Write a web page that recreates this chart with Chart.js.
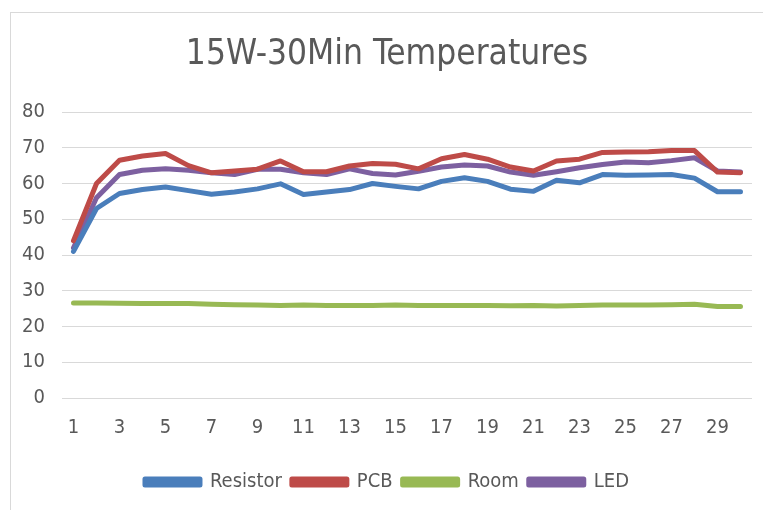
<!DOCTYPE html>
<html>
<head>
<meta charset="utf-8">
<script src="https://cdn.jsdelivr.net/npm/chart.js@4"></script>
<style>
  html, body { margin: 0; padding: 0; background: #fff; overflow: hidden; width: 763px; height: 510px; }
  #frame { position: absolute; left: 10px; top: 12px; width: 800px; height: 600px; border: 1px solid #d9d9d9; }
  #wrap { position: absolute; left: 0; top: 0; width: 763px; height: 510px; }
</style>
</head>
<body>
<div id="frame"></div>
<div id="wrap"><canvas id="c" width="763" height="510"></canvas></div>
<script>
const categories = ["1","2","3","4","5","6","7","8","9","10","11","12","13","14","15","16","17","18","19","20","21","22","23","24","25","26","27","28","29","30"];
const resistor = [41, 53, 57.2, 58.3, 59, 58, 57, 57.6, 58.5, 59.9, 56.9, 57.6, 58.3, 60, 59.2, 58.5, 60.6, 61.6, 60.6, 58.4, 57.8, 60.9, 60.2, 62.5, 62.3, 62.4, 62.5, 61.5, 57.7, 57.7];
const pcb = [44, 60, 66.5, 67.7, 68.4, 65, 63, 63.5, 64, 66.3, 63.3, 63.3, 64.9, 65.6, 65.4, 64.1, 66.9, 68.1, 66.8, 64.6, 63.5, 66.3, 66.8, 68.7, 68.8, 68.9, 69.2, 69.2, 63.2, 63];
const room = [26.6, 26.6, 26.5, 26.4, 26.4, 26.4, 26.2, 26.1, 26.0, 25.9, 26.0, 25.9, 25.9, 25.9, 26.0, 25.9, 25.9, 25.9, 25.9, 25.8, 25.9, 25.7, 25.9, 26.0, 26.0, 26.0, 26.1, 26.2, 25.6, 25.6];
const led = [42, 56, 62.5, 63.7, 64.1, 63.7, 63, 62.5, 64, 64, 63, 62.5, 64.1, 62.8, 62.4, 63.4, 64.6, 65.2, 64.9, 63.2, 62.3, 63.3, 64.4, 65.3, 66, 65.8, 66.4, 67.2, 63.5, 63.2];
const yTicks = [0, 10, 20, 30, 40, 50, 60, 70, 80];
const seriesNames = ["Resistor", "PCB", "Room", "LED"];
const titleText = "15W-30Min Temperatures";

const colors = ["#4A7EBB", "#BE4B48", "#98B954", "#7D60A0"];
const FONT = "'DejaVu Sans Condensed', sans-serif";
const TXT = "#595959";

function ds(label, data, color) {
  return {
    label, data,
    borderColor: color, backgroundColor: color,
    borderWidth: 5, pointRadius: 0, pointHoverRadius: 0,
    tension: 0, borderJoinStyle: 'round', borderCapStyle: 'round', fill: false
  };
}

new Chart(document.getElementById('c'), {
  type: 'line',
  data: {
    labels: categories,
    datasets: [
      ds(seriesNames[0], resistor, colors[0]),
      ds(seriesNames[1], pcb, colors[1]),
      ds(seriesNames[2], room, colors[2]),
      ds(seriesNames[3], led, colors[3])
    ]
  },
  options: {
    responsive: false,
    animation: false,
    devicePixelRatio: 1,
    layout: { padding: { left: 22, right: 11, top: 0, bottom: 8 } },
    plugins: {
      title: {
        display: true, text: titleText, color: TXT,
        font: { family: FONT, size: 35, weight: 'normal' },
        padding: { top: 34, bottom: 36 }
      },
      legend: {
        position: 'bottom',
        labels: {
          color: TXT, font: { family: FONT, size: 20 },
          boxWidth: 55, boxHeight: 6, padding: 10
        }
      },
      tooltip: { enabled: false }
    },
    scales: {
      x: {
        offset: true,
        grid: { display: false, drawTicks: false },
        border: { display: false },
        ticks: {
          color: TXT, font: { family: FONT, size: 20 }, padding: 18,
          autoSkip: false, maxRotation: 0,
          callback: function(v, i) { return i % 2 === 0 ? categories[i] : ''; }
        },
        afterFit: function(s) { s.height = 64; }
      },
      y: {
        min: 0, max: 80,
        afterBuildTicks: function(s) { s.ticks = yTicks.map(v => ({ value: v })); },
        grid: { color: '#d9d9d9', lineWidth: 1, drawTicks: false },
        border: { display: false },
        ticks: { color: TXT, font: { family: FONT, size: 20 }, padding: 17 },
        afterFit: function(s) { s.width = 40; }
      }
    }
  }
});
</script>
</body>
</html>
